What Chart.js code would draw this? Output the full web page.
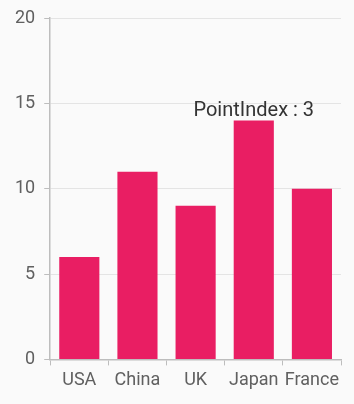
<!DOCTYPE html>
<html>
<head>
<meta charset="utf-8">
<script src="https://cdn.jsdelivr.net/npm/chart.js@4"></script>
<style>
  html, body { margin: 0; padding: 0; background: #fafafa; }
  #wrap { width: 354px; height: 404px; }
</style>
</head>
<body>
<div id="wrap"><canvas id="chart" width="354" height="404"></canvas></div>
<script>
const countries = ['USA', 'China', 'UK', 'Japan', 'France'];
const values = [6, 11, 9, 14, 10];
const yTicks = [0, 5, 10, 15, 20];
const labelIndex = 3;

// text over the selected bar
const pointLabel = {
    id: 'pointLabel',
    afterDatasetsDraw(chart) {
        const bar = chart.getDatasetMeta(0).data[labelIndex];
        if (!bar) return;
        const ctx = chart.ctx;
        ctx.save();
        ctx.font = '20px Roboto';
        ctx.fillStyle = '#333333';
        ctx.textAlign = 'center';
        ctx.textBaseline = 'alphabetic';
        ctx.fillText('PointIndex : ' + labelIndex, bar.x, bar.y - 4);
        ctx.restore();
    }
};

const ctx = document.getElementById('chart').getContext('2d');
new Chart(ctx, {
    type: 'bar',
    data: {
        labels: countries,
        datasets: [{
            data: values,
            backgroundColor: '#e91e63',
            categoryPercentage: 1,
            barPercentage: 0.69
        }]
    },
    options: {
        responsive: false,
        animation: false,
        layout: { padding: { top: 5, right: 13, bottom: 9, left: 6 } },
        plugins: {
            legend: { display: false },
            tooltip: { enabled: false }
        },
        scales: {
            x: {
                grid: {
                    offset: true,
                    drawOnChartArea: false,
                    tickLength: 6,
                    color: '#bdbdbd'
                },
                border: { color: '#bdbdbd', width: 1.5 },
                ticks: {
                    color: '#606060',
                    font: { family: 'Roboto', size: 18 },
                    padding: 4,
                    maxRotation: 0,
                    autoSkip: false
                }
            },
            y: {
                min: 0,
                max: 20,
                afterBuildTicks(scale) {
                    scale.ticks = yTicks.map(v => ({ value: v }));
                },
                grid: {
                    color: '#e4e4e4',
                    tickColor: '#bdbdbd',
                    tickLength: 6
                },
                border: { color: '#bdbdbd', width: 1.5 },
                ticks: {
                    color: '#606060',
                    font: { family: 'Roboto', size: 18, lineHeight: 1 },
                    padding: 9
                }
            }
        }
    },
    plugins: [pointLabel]
});
</script>
</body>
</html>
